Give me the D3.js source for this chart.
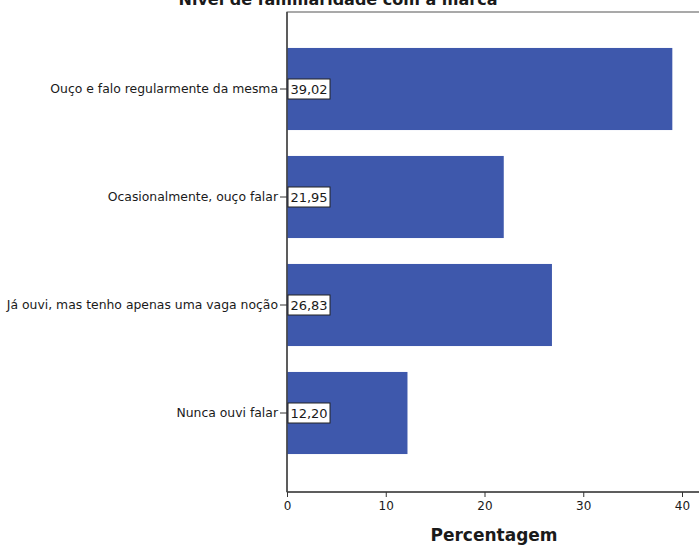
<!DOCTYPE html>
<html>
<head>
<meta charset="utf-8">
<script src="https://cdn.jsdelivr.net/npm/d3@7"></script>
<style>
  body { margin: 0; background: #fff; }
  svg { display: block; }
  text { font-family: "DejaVu Sans", sans-serif; fill: #1a1a1a; }
</style>
</head>
<body>
<svg id="chart" width="699" height="545"></svg>
<script>
// Familiarity levels and their share of respondents (%)
const categories = [
  "Ouço e falo regularmente da mesma",
  "Ocasionalmente, ouço falar",
  "Já ouvi, mas tenho apenas uma vaga noção",
  "Nunca ouvi falar"
];
const percentages = [39.02, 21.95, 26.83, 12.20];
const xTicks = [0, 10, 20, 30, 40];
const chartTitle = "Nível de familiaridade com a marca";
const xTitle = "Percentagem";

const svg = d3.select("#chart");
const plot = { left: 287, right: 720, top: 12, bottom: 492 };

const x = d3.scaleLinear().domain([0, 40]).range([plot.left, 682]);
const y = d3.scaleBand()
  .domain(categories)
  .range([35, 467])
  .paddingInner(0.24)
  .paddingOuter(0.12);

// Plot frame (top and right edges)
svg.append("rect")
  .attr("x", plot.left).attr("y", plot.top)
  .attr("width", plot.right - plot.left).attr("height", plot.bottom - plot.top)
  .attr("fill", "none").attr("stroke", "#555").attr("stroke-width", 1);

// Bars
svg.selectAll("rect.bar")
  .data(categories)
  .join("rect")
  .attr("class", "bar")
  .attr("x", x(0))
  .attr("y", d => y(d))
  .attr("width", (d, i) => x(percentages[i]) - x(0))
  .attr("height", y.bandwidth())
  .attr("fill", "#3e58ac");

// Y axis
const yAxis = svg.append("g")
  .attr("transform", `translate(${plot.left},0)`)
  .call(d3.axisLeft(y).tickSize(7).tickSizeOuter(0).tickPadding(2));
yAxis.select(".domain").attr("d", `M0,${plot.top}V${plot.bottom}`).attr("stroke", "#444").attr("stroke-width", 1.5);
yAxis.selectAll(".tick line").attr("stroke", "#333");
yAxis.selectAll(".tick text").style("font-size", "12.4px").attr("fill", "#1a1a1a");

// X axis
const xAxis = svg.append("g")
  .attr("transform", `translate(0,${plot.bottom})`)
  .call(d3.axisBottom(x).tickValues(xTicks).tickSize(5).tickSizeOuter(0).tickPadding(4));
xAxis.select(".domain").attr("d", `M${plot.left},0H${plot.right}`).attr("stroke", "#444").attr("stroke-width", 1.5);
xAxis.selectAll(".tick line").attr("stroke", "#333");
xAxis.selectAll(".tick text").style("font-size", "12px").attr("fill", "#1a1a1a");

// Value labels inside the bars
const labels = svg.selectAll("g.vlabel")
  .data(categories)
  .join("g")
  .attr("class", "vlabel")
  .attr("transform", d => `translate(${x(0) + 1},${y(d) + y.bandwidth() / 2})`);
labels.append("rect")
  .attr("x", 0).attr("y", -10)
  .attr("width", 42).attr("height", 20)
  .attr("fill", "#fff").attr("stroke", "#222").attr("stroke-width", 1);
labels.append("text")
  .attr("x", 21).attr("y", 0)
  .attr("dy", "0.36em")
  .attr("text-anchor", "middle")
  .style("font-size", "13px")
  .text((d, i) => percentages[i].toFixed(2).replace(".", ","));

// Titles
svg.append("text")
  .attr("x", 338).attr("y", 5)
  .attr("text-anchor", "middle")
  .style("font-size", "16px").style("font-weight", "bold")
  .text(chartTitle);
svg.append("text")
  .attr("x", 494).attr("y", 541)
  .attr("text-anchor", "middle")
  .style("font-size", "17px").style("font-weight", "bold")
  .text(xTitle);
</script>
</body>
</html>
